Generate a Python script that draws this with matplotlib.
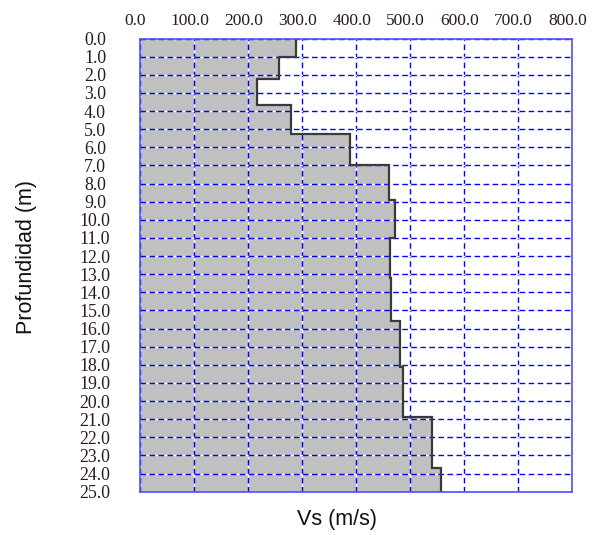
import numpy as np
import matplotlib
matplotlib.use("Agg")
import matplotlib.pyplot as plt
from matplotlib.transforms import ScaledTranslation

# Layer boundaries (depth, m) and shear-wave velocity of each layer (m/s)
depth_edges = [0.0, 1.0, 2.25, 3.67, 5.28, 7.0, 8.9, 11.0, 13.2, 15.6, 18.1, 20.9, 23.7, 25.0]
vs_values = [290, 258, 218, 281, 389, 461, 473, 464, 466, 482, 488, 541, 559]

x_ticks = [0, 100, 200, 300, 400, 500, 600, 700, 800]
x_tick_labels = [f"{v:.1f}" for v in x_ticks]
y_ticks = list(range(0, 26))
y_tick_labels = [f"{v:.1f}" for v in y_ticks]

fig = plt.figure(figsize=(5.99, 5.35), dpi=100)
ax = fig.add_axes([0.2329, 0.0809, 0.7215, 0.8471])

# gray filled profile
ax.stairs(vs_values, depth_edges, orientation="horizontal", fill=True,
          facecolor="#c0c0c0", edgecolor="none", baseline=0, zorder=1)
# dark outline (step line)
ax.stairs(vs_values, depth_edges, orientation="horizontal", fill=False,
          edgecolor="#3a3a3a", linewidth=1.6, baseline=None, zorder=2)

ax.set_xlim(0, 800)
ax.set_ylim(25, 0)

ax.xaxis.tick_top()
ax.set_xticks(x_ticks)
ax.set_xticklabels(x_tick_labels, family="Liberation Serif", fontsize=12.5, color="#2b1b17")
ax.set_yticks(y_ticks)
ax.set_yticklabels(y_tick_labels, family="Liberation Serif", fontsize=12.8, color="#2b1b17",
                   ha="center")
ax.tick_params(axis="x", length=0, pad=7)
ax.tick_params(axis="y", length=0, pad=32)

for lbl in ax.get_xticklabels():
    lbl.set_transform(lbl.get_transform() + ScaledTranslation(-4 / 100, 0, fig.dpi_scale_trans))

ax.set_axisbelow("line")
ax.grid(True, color="#0000ff", linestyle=(0, (4, 2.5)), linewidth=1.0, gapcolor="white")

for sp in ax.spines.values():
    sp.set_color("#5050ff")
    sp.set_linewidth(1.2)

fig.text(336.7 / 599, 1 - 520 / 535, "Vs (m/s)", family="Liberation Sans", fontsize=15.5,
         ha="center", va="center", color="#111111")
fig.text(26.5 / 599, 1 - 256.7 / 535, "Profundidad (m)", family="Liberation Sans", fontsize=15.5,
         ha="center", va="center", rotation=90, color="#111111")

fig.savefig("out.png", dpi=100)
